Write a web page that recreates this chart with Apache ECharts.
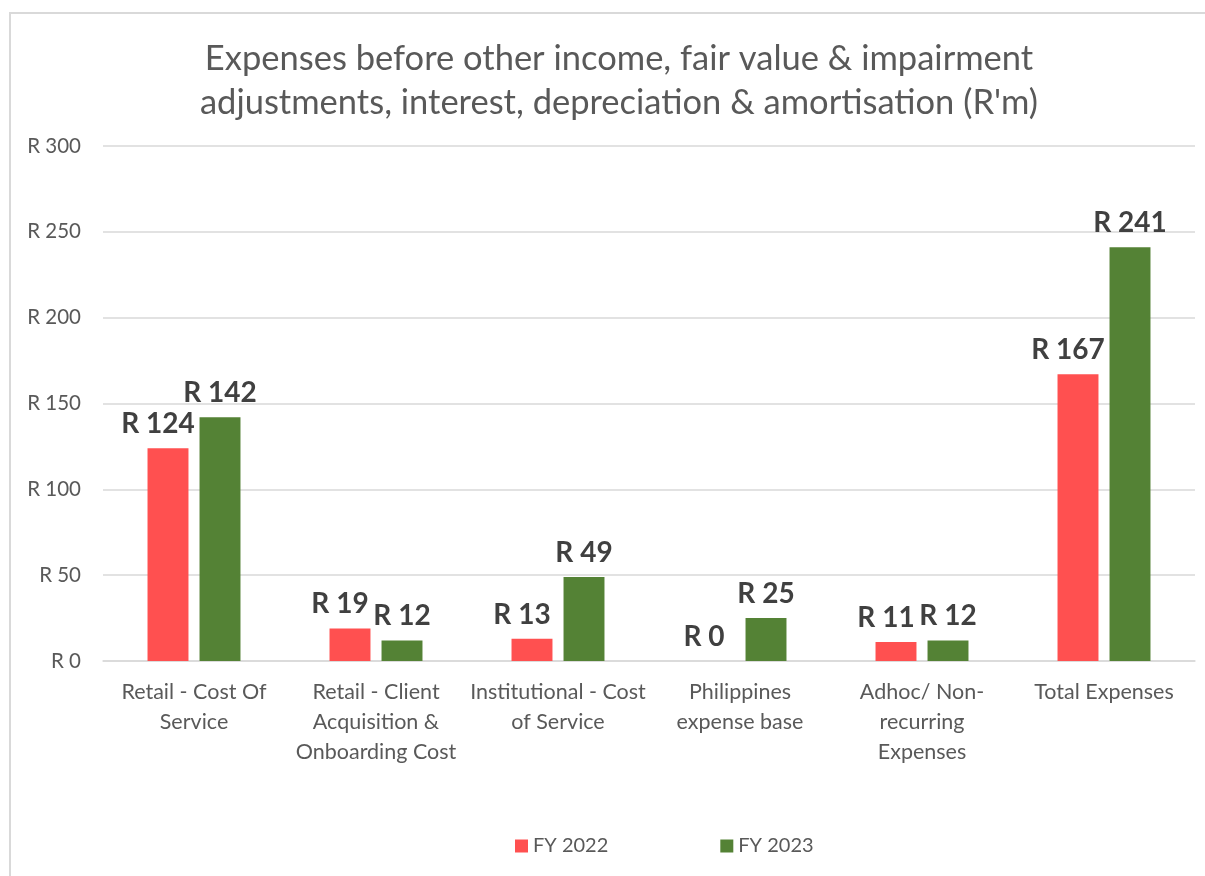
<!DOCTYPE html>
<html>
<head>
<meta charset="utf-8">
<script src="https://cdn.jsdelivr.net/npm/echarts@6/dist/echarts.min.js"></script>
<style>
  html, body { margin: 0; padding: 0; background: #fff; }
  #frame {
    position: absolute; left: 9px; top: 12px; width: 1300px; height: 1000px;
    border-left: 2px solid #d9d9d9; border-top: 2px solid #d9d9d9;
  }
  #chart { position: absolute; left: 0; top: 0; width: 1205px; height: 876px; }
</style>
</head>
<body>
<div id="frame"></div>
<div id="chart"></div>
<script>
// categories (line breaks follow the original wrapping)
const categories = [
  'Retail - Cost Of\nService',
  'Retail - Client\nAcquisition &\nOnboarding Cost',
  'Institutional - Cost\nof Service',
  'Philippines\nexpense base',
  'Adhoc/ Non-\nrecurring\nExpenses',
  'Total Expenses',
]
const fy2022 = [124, 19, 13, 0, 11, 167]
const fy2023 = [142, 12, 49, 25, 12, 241]

const FONT = 'Lato, "Noto Sans", sans-serif'
const COLORS = { fy2022: '#FF5050', fy2023: '#548235' }

const chart = echarts.init(document.getElementById('chart'))

function labelStyle(offsetX) {
  return {
    show: true,
    position: 'top',
    distance: 10,
    offset: [offsetX, 0],
    fontFamily: FONT,
    fontWeight: 'bold',
    fontSize: 28,
    color: '#404040',
    formatter: (p) => 'R ' + p.value,
  }
}

chart.setOption({
  animation: false,
  title: {
    text: 'Expenses before other income, fair value & impairment\nadjustments, interest, depreciation & amortisation (R\'m)',
    left: 614,
    top: 32,
    textAlign: 'center',
    textStyle: {
      fontFamily: FONT,
      fontWeight: 'normal',
      fontSize: 34.5,
      lineHeight: 44,
      color: '#595959',
    },
  },
  legend: {
    bottom: 15,
    left: 510,
    itemWidth: 13,
    itemHeight: 13,
    itemGap: 112,
    icon: 'rect',
    textStyle: { fontFamily: FONT, fontSize: 20, color: '#595959' },
    data: ['FY 2022', 'FY 2023'],
  },
  grid: { left: 103, right: 10, top: 146, bottom: 215 },
  xAxis: {
    type: 'category',
    data: categories,
    axisLine: { lineStyle: { color: '#d9d9d9', width: 1.5 } },
    axisTick: { show: false },
    axisLabel: {
      interval: 0,
      margin: 16,
      fontFamily: FONT,
      fontSize: 21.5,
      lineHeight: 30,
      color: '#595959',
    },
  },
  yAxis: {
    type: 'value',
    min: 0,
    max: 300,
    interval: 50,
    axisLine: { show: false },
    axisTick: { show: false },
    splitLine: { lineStyle: { color: '#d9d9d9', width: 1.5 } },
    axisLabel: {
      margin: 22,
      fontFamily: FONT,
      fontSize: 20.5,
      color: '#595959',
      formatter: (v) => 'R ' + v,
    },
  },
  series: [
    {
      name: 'FY 2022',
      type: 'bar',
      data: fy2022,
      barWidth: '22.5%',
      barGap: '27%',
      itemStyle: { color: COLORS.fy2022 },
      label: labelStyle(-10),
    },
    {
      name: 'FY 2023',
      type: 'bar',
      data: fy2023,
      barWidth: '22.5%',
      itemStyle: { color: COLORS.fy2023 },
      label: labelStyle(0),
    },
  ],
})
</script>
</body>
</html>
